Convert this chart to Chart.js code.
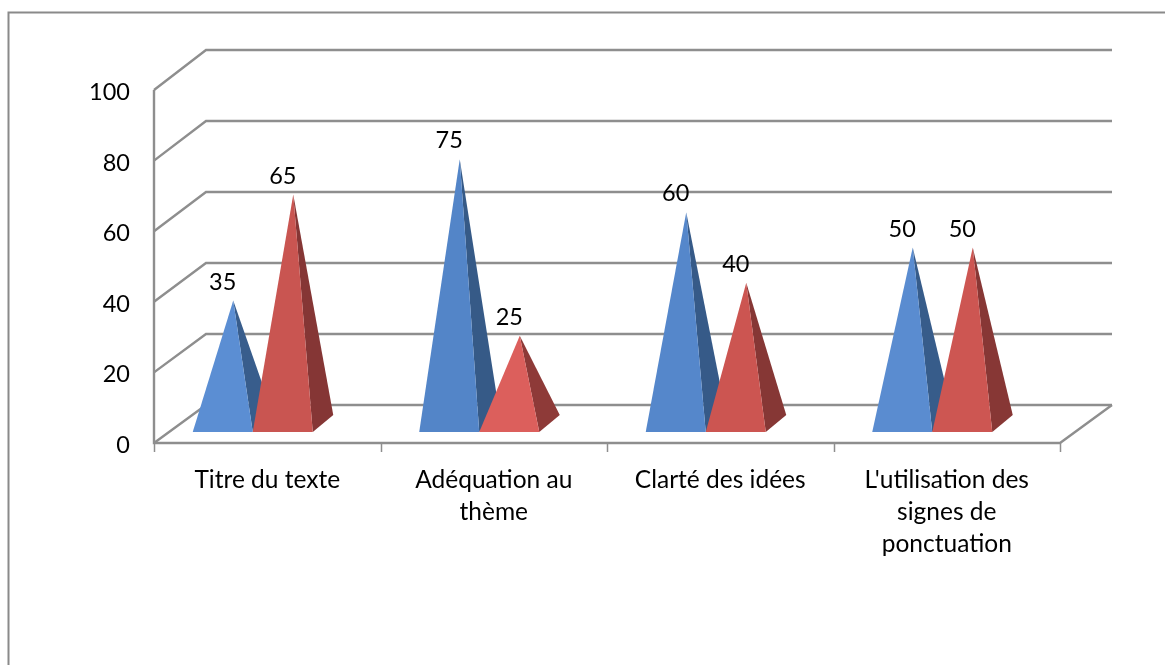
<!DOCTYPE html>
<html>
<head>
<meta charset="utf-8">
<script src="https://cdn.jsdelivr.net/npm/chart.js@4/dist/chart.umd.min.js"></script>
<style>
  html, body { margin: 0; padding: 0; background: #fff; overflow: hidden; }
  #wrap { width: 1165px; height: 665px; }
</style>
</head>
<body>
<div id="wrap"><canvas id="chart"></canvas></div>
<script>
const categories = [
    'Titre du texte',
    ['Adéquation au', 'thème'],
    'Clarté des idées',
    ["L'utilisation des", 'signes de', 'ponctuation']
];
const blueValues = [35, 75, 60, 50];
const redValues = [65, 25, 40, 50];
const yTicks = [0, 20, 40, 60, 80, 100];

// one front / side shade per pyramid
const blueFront = ['#5b8ed3', '#5385c8', '#5587cb', '#5a8cd0'];
const blueSide = ['#385d8c', '#365a87', '#365a88', '#375c8a'];
const redFront = ['#c95551', '#dc5f5c', '#cc5551', '#cd5652'];
const redSide = ['#853635', '#8e3a38', '#863735', '#873735'];

const FONT = 'Lato, "Open Sans", sans-serif';
const GRID = '#8e8e8e';

// how far the back wall sits from the front of the axes
const WALL_DX = 52, WALL_DY = -38;

const pyramids = {
    id: 'pyramids',
    beforeDatasetsDraw(chart) {
        const c = chart.ctx, y = chart.scales.y;
        const left = chart.chartArea.left, right = chart.chartArea.right;
        const bottom = chart.chartArea.bottom;
        c.save();

        // outer frame
        c.strokeStyle = '#8a8a8a';
        c.lineWidth = 2;
        c.beginPath();
        c.moveTo(8.5, 665);
        c.lineTo(8.5, 12.5);
        c.lineTo(1165, 12.5);
        c.stroke();

        // walls
        c.strokeStyle = GRID;
        c.lineWidth = 2.4;
        c.lineJoin = 'miter';
        yTicks.forEach(t => {
            const py = y.getPixelForValue(t);
            const by = py + WALL_DY - 2 * t / 100;
            c.beginPath();
            c.moveTo(left, py);
            c.lineTo(left + WALL_DX, by);
            c.lineTo(right + WALL_DX, by);
            c.stroke();
        });
        c.beginPath();
        c.moveTo(left, y.getPixelForValue(100));
        c.lineTo(left, bottom);
        c.lineTo(right, bottom);
        c.lineTo(right + WALL_DX, y.getPixelForValue(0) + WALL_DY);
        c.stroke();

        // tick marks under the floor
        c.lineWidth = 1.5;
        for (let i = 0; i <= categories.length; i++) {
            const px = Math.round(left + (right - left) * i / categories.length);
            c.beginPath();
            c.moveTo(px + 0.5, bottom);
            c.lineTo(px + 0.5, bottom + 9);
            c.stroke();
        }

        // y labels sit a little below their tick in the original
        c.fillStyle = '#000';
        c.font = '23.5px ' + FONT;
        c.textAlign = 'right';
        c.textBaseline = 'middle';
        y.ticks.forEach(t => c.fillText(String(t.value), 130, y.getPixelForValue(t.value) + 2.5));
        c.restore();
    },
    afterDatasetsDraw(chart) {
        const c = chart.ctx;
        const fronts = [blueFront, redFront], sides = [blueSide, redSide];
        const labels = [];
        c.save();
        chart.data.datasets.forEach((ds, d) => {
            chart.getDatasetMeta(d).data.forEach((bar, i) => {
                const half = bar.width / 2;
                const cx = bar.x - 14.5;         // front face centre
                const fy = bar.base - 11;        // front edge of the base
                const ax = cx + 10.5;            // apex sits mid depth
                const ay = bar.y - 19;
                const frx = cx + half;

                c.fillStyle = sides[d][i];
                c.beginPath();
                c.moveTo(ax, ay);
                c.lineTo(frx, fy);
                c.lineTo(frx + 20.5, fy - 17);
                c.closePath();
                c.fill();

                c.fillStyle = fronts[d][i];
                c.beginPath();
                c.moveTo(ax, ay);
                c.lineTo(cx - half, fy);
                c.lineTo(frx, fy);
                c.closePath();
                c.fill();

                labels.push([ds.data[i], cx, ay - 18.5]);
            });
        });
        c.fillStyle = '#000';
        c.font = '23.5px ' + FONT;
        c.textAlign = 'center';
        c.textBaseline = 'middle';
        labels.forEach(l => c.fillText(String(l[0]), l[1], l[2]));
        c.restore();
    }
};

new Chart(document.getElementById('chart'), {
    type: 'bar',
    plugins: [pyramids],
    data: {
        labels: categories,
        datasets: [
            { label: 'Série 1', data: blueValues, backgroundColor: 'transparent' },
            { label: 'Série 2', data: redValues, backgroundColor: 'transparent' }
        ]
    },
    options: {
        responsive: true,
        maintainAspectRatio: false,
        animation: false,
        datasets: { bar: { categoryPercentage: 0.53, barPercentage: 1 } },
        layout: { padding: { top: 90, right: 105, left: 0, bottom: 0 } },
        plugins: { legend: { display: false }, tooltip: { enabled: false } },
        scales: {
            x: {
                grid: { display: false },
                border: { display: false },
                afterFit: s => { s.height = 222; },
                ticks: {
                    color: '#000',
                    font: { family: FONT, size: 24.5, lineHeight: 1.3 },
                    maxRotation: 0,
                    autoSkip: false,
                    padding: 13
                }
            },
            y: {
                min: 0,
                max: 100,
                grid: { display: false },
                border: { display: false },
                afterFit: s => { s.width = 154; },
                afterBuildTicks: s => { s.ticks = yTicks.map(v => ({ value: v })); },
                ticks: { display: false }
            }
        }
    }
});
</script>
</body>
</html>
